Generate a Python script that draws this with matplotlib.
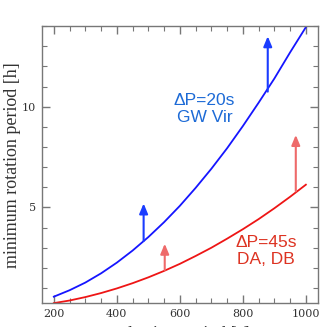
import matplotlib
matplotlib.use("Agg")
import matplotlib.pyplot as plt
from matplotlib.ticker import MultipleLocator

# Data
period_s = [200, 250, 300, 350, 400, 450, 500, 550, 600, 650, 700, 750, 800, 850, 900, 950, 1000]
rot_gwvir = [0.57, 0.89, 1.27, 1.73, 2.26, 2.86, 3.53, 4.27, 5.08, 5.97, 6.92, 7.94, 9.04, 10.2, 11.4, 12.7, 13.95]
rot_dadb = [0.25, 0.38, 0.55, 0.75, 0.98, 1.24, 1.53, 1.85, 2.20, 2.59, 3.00, 3.45, 3.92, 4.42, 4.96, 5.53, 6.13]

blue_arrow_x = [485, 879]
blue_arrow_y0 = [3.33, 10.75]
blue_arrow_y1 = [5.2, 13.5]
red_arrow_x = [552, 968]
red_arrow_y0 = [1.9, 5.8]
red_arrow_y1 = [3.2, 8.6]

xticks = [200, 400, 600, 800, 1000]
yticks = [5, 10]

fig = plt.figure(figsize=(3.27, 3.27), dpi=100)
ax = fig.add_axes([0.128, 0.073, 0.844, 0.847])

ax.plot(period_s, rot_gwvir, color="#1515ff", lw=1.3)
ax.plot(period_s, rot_dadb, color="#ee1515", lw=1.3)

for x, y0, y1 in zip(blue_arrow_x, blue_arrow_y0, blue_arrow_y1):
    ax.annotate("", xy=(x, y1), xytext=(x, y0),
                arrowprops=dict(arrowstyle="-|>,head_length=0.6,head_width=0.25",
                                color="#1a3cff", lw=1.5, shrinkA=0, shrinkB=0))
for x, y0, y1 in zip(red_arrow_x, red_arrow_y0, red_arrow_y1):
    ax.annotate("", xy=(x, y1), xytext=(x, y0),
                arrowprops=dict(arrowstyle="-|>,head_length=0.6,head_width=0.25",
                                color="#ee6a6a", lw=1.5, shrinkA=0, shrinkB=0))

ax.text(678, 9.9, "ΔP=20s\nGW Vir", color="#1c6ad6", fontsize=12.5,
        ha="center", va="center", family="Liberation Sans", linespacing=1.2)
ax.text(874, 2.83, "ΔP=45s\nDA, DB", color="#dd3322", fontsize=12.5,
        ha="center", va="center", family="Liberation Sans", linespacing=1.2)

ax.set_xlim(162, 1038)
ax.set_ylim(0.25, 14)
ax.set_xticks(xticks)
ax.set_yticks(yticks)
ax.xaxis.set_minor_locator(MultipleLocator(50))
ax.yaxis.set_minor_locator(MultipleLocator(1))
ax.tick_params(which="both", direction="in", top=True, right=True, color="#777777")
ax.tick_params(which="major", length=6, width=1, labelsize=8, pad=4)
ax.tick_params(which="minor", length=3.5, width=0.8)
for lab in ax.get_xticklabels() + ax.get_yticklabels():
    lab.set_family("DejaVu Serif")
    lab.set_color("#333333")
for sp in ax.spines.values():
    sp.set_color("#777777")
    sp.set_linewidth(1.0)

ax.set_ylabel("minimum rotation period [h]", family="Liberation Serif", fontsize=13,
              color="#333333", labelpad=1)
ax.set_xlabel("pulsation period [s]", family="Liberation Serif", fontsize=13,
              color="#333333", labelpad=5)

fig.savefig("out.png", dpi=100)
